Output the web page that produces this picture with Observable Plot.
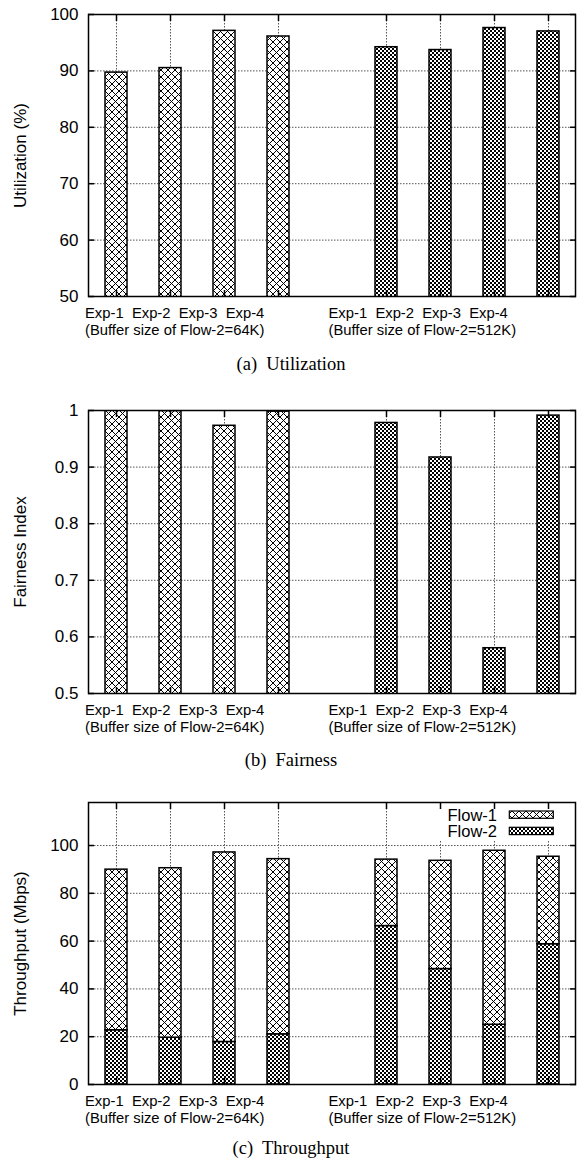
<!DOCTYPE html>
<html>
<head>
<meta charset="utf-8">
<script src="https://cdn.jsdelivr.net/npm/d3@7"></script>
<script src="https://cdn.jsdelivr.net/npm/@observablehq/plot@0.6"></script>
<style>
  body { margin: 0; background: #fff; }
  #root { position: relative; width: 582px; height: 1162px; background: #fff; font-family: "Liberation Sans", Arial, sans-serif; overflow: hidden; }
  .chart { position: absolute; left: 0; }
  .caption { position: absolute; left: 0; width: 582px; text-align: center; font-family: "Liberation Serif", "Times New Roman", serif; font-size: 18.5px; line-height: 18.5px; white-space: pre; color: #000; }
  svg text { white-space: pre; }
  #legend { position: absolute; }
</style>
</head>
<body>
<svg width="0" height="0" style="position:absolute">
  <defs>
    <pattern id="xhatch" patternUnits="userSpaceOnUse" width="7" height="7">
      <rect width="7" height="7" fill="white"/>
      <path d="M0,0L7,7M7,0L0,7M-1,6L1,8M6,-1L8,1M-1,1L1,-1M6,8L8,6" stroke="black" stroke-width="1"/>
    </pattern>
    <pattern id="dense" patternUnits="userSpaceOnUse" width="4" height="4">
      <rect width="4" height="4" fill="white"/>
      <rect width="2" height="2" fill="black"/>
      <rect x="2" y="2" width="2" height="2" fill="black"/>
    </pattern>
  </defs>
</svg>
<div id="root"></div>
<script>
// ---------- data ----------
const expLabels = ["Exp-1", "Exp-2", "Exp-3", "Exp-4"];
const bufferGroups = ["64K", "512K"];
const groupCaptions = ["(Buffer size of Flow-2=64K)", "(Buffer size of Flow-2=512K)"];

const utilization64 = [89.7, 90.5, 97.1, 96.1];
const utilization512 = [94.2, 93.7, 97.6, 97.0];

const fairness64 = [1.0, 0.999, 0.973, 0.998];
const fairness512 = [0.978, 0.917, 0.58, 0.991];

const flows = ["Flow-1", "Flow-2"];
const flow1Tput64 = [67.2, 70.9, 79.3, 73.3];
const flow2Tput64 = [22.7, 19.6, 17.8, 21.0];
const flow1Tput512 = [27.8, 45.3, 72.8, 36.6];
const flow2Tput512 = [66.3, 48.3, 25.0, 58.7];

const utilTicks = [50, 60, 70, 80, 90, 100];
const fairTicks = [0.5, 0.6, 0.7, 0.8, 0.9, 1];
const tputTicks = [0, 20, 40, 60, 80, 100];

const captions = ["(a)  Utilization", "(b)  Fairness", "(c)  Throughput"];

// ---------- helpers ----------
const keyOf = (g, e) => g + " " + e;
const GAP = "gap";
const barKeys = bufferGroups.flatMap(g => expLabels.map(e => keyOf(g, e)));
const slotKeys = [...expLabels.map(e => keyOf(bufferGroups[0], e)), GAP, ...expLabels.map(e => keyOf(bufferGroups[1], e))];
const groupLabelRows = bufferGroups.map((g, i) => ({
  key: keyOf(g, expLabels[0]),
  group: g,
  line1: expLabels.join("  "),
  line2: groupCaptions[i]
}));

const FONT = "Liberation Sans, Arial, sans-serif";

function groupLabels(group, dx) {
  const rows = groupLabelRows.filter(d => d.group === group);
  const common = {x: "key", frameAnchor: "bottom", lineAnchor: "top", textAnchor: "start", dx, fontSize: 14.8, fill: "black"};
  return [
    Plot.text(rows, {...common, text: "line1", dy: 10.5, wordSpacing: 1}),
    Plot.text(rows, {...common, text: "line2", dy: 27.5})
  ];
}

function chart({marks, yDomain, yTicks, yLabel, height, color}) {
  return Plot.plot({
    width: 582,
    height,
    marginLeft: 88,
    marginRight: 7,
    marginTop: 14,
    marginBottom: 42,
    style: {fontFamily: FONT, fontSize: "15px", color: "black", background: "transparent", overflow: "visible"},
    x: {type: "band", domain: slotKeys, paddingInner: 0.6, paddingOuter: 0.3, axis: null},
    y: {domain: yDomain, axis: null},
    color,
    marks: [
      Plot.gridY(yTicks, {stroke: "#555", strokeOpacity: 1, strokeWidth: 1, strokeDasharray: "1.5,1.5"}),
      Plot.gridX(barKeys, {stroke: "#555", strokeOpacity: 1, strokeWidth: 1, strokeDasharray: "1.5,1.5"}),
      ...marks,
      Plot.axisY(yTicks, {anchor: "left", tickSize: 0, tickPadding: 10, fontSize: 17, tickFormat: d => String(d),
        label: yLabel, labelAnchor: "center", labelArrow: "none", labelOffset: 75}),
      Plot.axisY(yTicks, {anchor: "left", tickSize: -6, strokeWidth: 1.5, tickFormat: () => "", label: null}),
      Plot.axisY(yTicks, {anchor: "right", tickSize: -6, strokeWidth: 1.5, tickFormat: () => "", label: null}),
      Plot.axisX(barKeys, {anchor: "top", tickSize: -6, strokeWidth: 1.5, tickFormat: () => "", label: null}),
      Plot.axisX(barKeys, {anchor: "bottom", tickSize: -6, strokeWidth: 1.5, tickFormat: () => "", label: null}),
      Plot.frame({stroke: "black", strokeWidth: 1.5}),
      ...groupLabels(bufferGroups[0], -31.5),
      ...groupLabels(bufferGroups[1], -58)
    ]
  });
}

function simpleRows(a, b) {
  const series = [a, b];
  return bufferGroups.flatMap((g, gi) => expLabels.map((e, i) => ({key: keyOf(g, e), group: g, value: series[gi][i]})));
}

const groupColor = {type: "ordinal", domain: bufferGroups, range: ["url(#xhatch)", "url(#dense)"]};
const flowColor = {type: "ordinal", domain: flows, range: ["url(#xhatch)", "url(#dense)"]};

const utilRows = simpleRows(utilization64, utilization512);
const fairRows = simpleRows(fairness64, fairness512);
const flow1Series = [flow1Tput64, flow1Tput512];
const flow2Series = [flow2Tput64, flow2Tput512];
const tputRows = [
  ...bufferGroups.flatMap((g, gi) => expLabels.map((e, i) => ({key: keyOf(g, e), flow: flows[1], value: flow2Series[gi][i]}))),
  ...bufferGroups.flatMap((g, gi) => expLabels.map((e, i) => ({key: keyOf(g, e), flow: flows[0], value: flow1Series[gi][i]})))
];

const root = document.getElementById("root");

function place(node, top) {
  const div = document.createElement("div");
  div.className = "chart";
  div.style.top = top + "px";
  div.appendChild(node);
  root.appendChild(div);
}
function caption(text, top) {
  const div = document.createElement("div");
  div.className = "caption";
  div.style.top = top + "px";
  div.textContent = text;
  root.appendChild(div);
}

place(chart({
  yDomain: [50, 100], yTicks: utilTicks, yLabel: "Utilization (%)", height: 338, color: groupColor,
  marks: [Plot.barY(utilRows, {x: "key", y: "value", fill: "group", stroke: "black", strokeWidth: 1.5, clip: true})]
}), 0);
caption(captions[0], 354.5);

place(chart({
  yDomain: [0.5, 1], yTicks: fairTicks, yLabel: "Fairness Index", height: 339, color: groupColor,
  marks: [Plot.barY(fairRows, {x: "key", y: "value", fill: "group", stroke: "black", strokeWidth: 1.5, clip: true})]
}), 396);
caption(captions[1], 750.5);

place(chart({
  yDomain: [0, 118], yTicks: tputTicks, yLabel: "Throughput (Mbps)", height: 338, color: flowColor,
  marks: [Plot.barY(tputRows, {x: "key", y: "value", z: "flow", fill: "flow", stroke: "black", strokeWidth: 1.5})]
}), 788);
caption(captions[2], 1138.5);

// legend (key box) for chart (c)
const legend = d3.select(root).append("div").attr("id", "legend")
  .style("left", "435px").style("top", "804px").style("width", "125px").style("height", "36px");
const lsvg = legend.append("svg").attr("width", 125).attr("height", 36)
  .style("font-family", FONT).style("font-size", "16.5px").style("overflow", "visible");
lsvg.append("rect").attr("x", 0).attr("y", 5).attr("width", 125).attr("height", 31).attr("fill", "white");
const fills = {"Flow-1": "url(#xhatch)", "Flow-2": "url(#dense)"};
flows.forEach((f, i) => {
  lsvg.append("text").attr("x", 62).attr("y", 17 + i * 16.3).attr("text-anchor", "end").attr("fill", "black").text(f);
  lsvg.append("rect").attr("x", 74.3).attr("y", 7 + i * 16.3).attr("width", 44).attr("height", 7.3)
    .attr("fill", fills[f]).attr("stroke", "black").attr("stroke-width", 1.2);
});
</script>
</body>
</html>
